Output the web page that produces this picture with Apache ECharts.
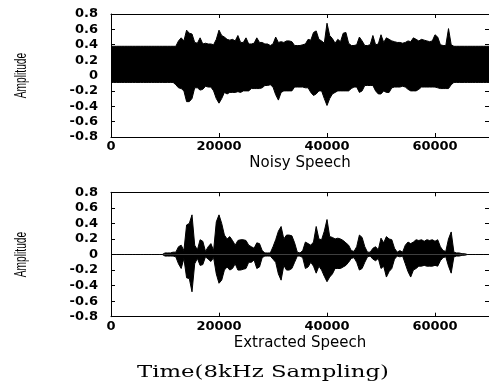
<!DOCTYPE html>
<html>
<head>
<meta charset="utf-8">
<script src="https://cdn.jsdelivr.net/npm/echarts@6/dist/echarts.min.js"></script>
<style>
  html, body { margin: 0; padding: 0; background: #fff; }
  #chart { width: 489px; height: 392px; }
</style>
</head>
<body>
<div id="chart"></div>
<script>
// envelope of each waveform, one value every STEP samples (0 .. 70000)
const STEP = 500;

const noisyHi = [
  0.38, 0.38, 0.38, 0.38, 0.38, 0.38, 0.38, 0.38, 0.38, 0.38,
  0.38, 0.38, 0.38, 0.38, 0.38, 0.38, 0.38, 0.38, 0.38, 0.38,
  0.38, 0.38, 0.38, 0.38, 0.38, 0.45, 0.49, 0.45, 0.59, 0.55,
  0.54, 0.43, 0.42, 0.49, 0.41, 0.42, 0.41, 0.41, 0.40, 0.47,
  0.59, 0.52, 0.50, 0.47, 0.46, 0.47, 0.45, 0.52, 0.43, 0.43,
  0.49, 0.41, 0.41, 0.42, 0.49, 0.43, 0.43, 0.41, 0.41, 0.39,
  0.41, 0.50, 0.43, 0.44, 0.43, 0.45, 0.45, 0.44, 0.39, 0.39,
  0.39, 0.40, 0.41, 0.47, 0.46, 0.56, 0.58, 0.47, 0.45, 0.42,
  0.68, 0.52, 0.48, 0.42, 0.47, 0.44, 0.55, 0.56, 0.42, 0.39,
  0.39, 0.40, 0.50, 0.45, 0.39, 0.39, 0.40, 0.52, 0.40, 0.41,
  0.53, 0.43, 0.49, 0.47, 0.45, 0.44, 0.43, 0.43, 0.42, 0.43,
  0.45, 0.44, 0.49, 0.47, 0.45, 0.47, 0.46, 0.45, 0.44, 0.45,
  0.53, 0.50, 0.40, 0.39, 0.39, 0.61, 0.40, 0.38, 0.38, 0.38,
  0.38, 0.38, 0.38, 0.38, 0.38, 0.38, 0.38, 0.38, 0.38, 0.38,
  0.38
];
const noisyLo = [
  -0.09, -0.09, -0.09, -0.09, -0.09, -0.09, -0.09, -0.09, -0.09, -0.09,
  -0.09, -0.09, -0.09, -0.09, -0.09, -0.09, -0.09, -0.09, -0.09, -0.09,
  -0.09, -0.09, -0.09, -0.09, -0.12, -0.16, -0.17, -0.20, -0.34, -0.34,
  -0.30, -0.16, -0.16, -0.19, -0.18, -0.14, -0.15, -0.15, -0.20, -0.30,
  -0.36, -0.30, -0.22, -0.24, -0.22, -0.22, -0.22, -0.21, -0.22, -0.20,
  -0.20, -0.20, -0.17, -0.17, -0.17, -0.17, -0.16, -0.13, -0.13, -0.12,
  -0.15, -0.25, -0.32, -0.22, -0.20, -0.20, -0.20, -0.20, -0.15, -0.15,
  -0.15, -0.15, -0.16, -0.16, -0.22, -0.26, -0.24, -0.20, -0.20, -0.30,
  -0.39, -0.30, -0.24, -0.22, -0.20, -0.20, -0.20, -0.20, -0.20, -0.17,
  -0.15, -0.15, -0.22, -0.20, -0.13, -0.13, -0.13, -0.13, -0.20, -0.24,
  -0.24, -0.20, -0.22, -0.22, -0.16, -0.15, -0.15, -0.15, -0.14, -0.15,
  -0.18, -0.20, -0.20, -0.20, -0.18, -0.15, -0.15, -0.15, -0.15, -0.15,
  -0.15, -0.16, -0.17, -0.17, -0.17, -0.17, -0.12, -0.09, -0.09, -0.09,
  -0.09, -0.09, -0.09, -0.09, -0.09, -0.09, -0.09, -0.09, -0.09, -0.09,
  -0.09
];
const cleanHi = [
  0, 0, 0, 0, 0, 0, 0, 0, 0, 0,
  0, 0, 0, 0, 0, 0, 0, 0, 0, 0,
  0.02, 0.02, 0.02, 0.03, 0.03, 0.10, 0.12, 0.05, 0.38, 0.40,
  0.51, 0.12, 0.06, 0.19, 0.17, 0.04, 0.10, 0.14, 0.05, 0.42,
  0.51, 0.40, 0.25, 0.20, 0.23, 0.18, 0.12, 0.18, 0.19, 0.19,
  0.18, 0.12, 0.10, 0.08, 0.15, 0.14, 0.05, 0.02, 0.02, 0.02,
  0.10, 0.19, 0.30, 0.36, 0.20, 0.25, 0.25, 0.24, 0.15, 0.03,
  0.02, 0.05, 0.16, 0.14, 0.12, 0.16, 0.36, 0.20, 0.19, 0.30,
  0.45, 0.23, 0.22, 0.20, 0.21, 0.20, 0.18, 0.15, 0.12, 0.05,
  0.04, 0.10, 0.25, 0.22, 0.10, 0.03, 0.03, 0.08, 0.10, 0.06,
  0.21, 0.15, 0.23, 0.20, 0.19, 0.08, 0.03, 0.05, 0.03, 0.12,
  0.16, 0.14, 0.16, 0.19, 0.18, 0.19, 0.17, 0.19, 0.18, 0.19,
  0.17, 0.19, 0.10, 0.05, 0.04, 0.20, 0.29, 0.03, 0.02, 0.02,
  0.01, 0.01, 0, 0, 0, 0, 0, 0, 0, 0,
  0
];
const cleanLo = [
  0, 0, 0, 0, 0, 0, 0, 0, 0, 0,
  0, 0, 0, 0, 0, 0, 0, 0, 0, 0,
  -0.02, -0.02, -0.02, -0.02, -0.03, -0.12, -0.18, -0.05, -0.30, -0.31,
  -0.48, -0.12, -0.05, -0.14, -0.13, -0.03, -0.06, -0.09, -0.04, -0.25,
  -0.37, -0.33, -0.20, -0.16, -0.20, -0.18, -0.12, -0.20, -0.20, -0.19,
  -0.18, -0.10, -0.10, -0.07, -0.18, -0.16, -0.04, -0.02, -0.02, -0.02,
  -0.06, -0.10, -0.25, -0.33, -0.14, -0.20, -0.20, -0.18, -0.10, -0.02,
  -0.02, -0.04, -0.18, -0.16, -0.10, -0.15, -0.24, -0.15, -0.20, -0.28,
  -0.35, -0.29, -0.25, -0.18, -0.18, -0.18, -0.16, -0.14, -0.10, -0.05,
  -0.04, -0.10, -0.20, -0.18, -0.10, -0.03, -0.02, -0.06, -0.08, -0.05,
  -0.18, -0.15, -0.29, -0.22, -0.18, -0.06, -0.02, -0.03, -0.02, -0.12,
  -0.22, -0.29, -0.20, -0.18, -0.15, -0.15, -0.14, -0.15, -0.15, -0.15,
  -0.14, -0.15, -0.08, -0.04, -0.03, -0.15, -0.24, -0.03, -0.02, -0.02,
  -0.01, -0.01, 0, 0, 0, 0, 0, 0, 0, 0,
  0
];

const xTicks = [0, 20000, 40000, 60000];
const yTicks = [-0.8, -0.6, -0.4, -0.2, 0, 0.2, 0.4, 0.6, 0.8];
const panelNames = ['Noisy Speech', 'Extracted Speech'];

const chart = echarts.init(document.getElementById('chart'));

const sans = 'DejaVu Sans';
const black = '#000';
const tickStyle = { inside: true, length: 4, lineStyle: { color: black, width: 1 } };
const lineStyle = { show: true, onZero: false, lineStyle: { color: black, width: 1 } };

const grids = [
  { left: 111, top: 14, width: 381.5, height: 123 },
  { left: 111, top: 192.3, width: 381.5, height: 124.4 },
];

const xAxis = [];
const yAxis = [];
const graphic = [];
grids.forEach((g, gi) => {
  const xBase = {
    gridIndex: gi, type: 'value', min: xTicks[0], max: 70000,
    interval: xTicks[1] - xTicks[0],
    axisLine: lineStyle, axisTick: tickStyle, splitLine: { show: false },
  };
  xAxis.push(Object.assign({}, xBase, {
    position: 'bottom',
    name: panelNames[gi], nameLocation: 'middle', nameGap: 19,
    nameTextStyle: { fontFamily: sans, fontSize: 15, color: black },
    axisLabel: {
      margin: 3, fontFamily: sans, fontSize: 13, fontWeight: 'bold', color: black,
      showMaxLabel: false,
      formatter: (v) => (xTicks.includes(v) ? String(v) : ''),
    },
  }));
  xAxis.push(Object.assign({}, xBase, { position: 'top', axisLabel: { show: false } }));

  const yBase = {
    gridIndex: gi, type: 'value', min: yTicks[0], max: yTicks[yTicks.length - 1],
    interval: 0.2,
    axisLine: lineStyle, axisTick: tickStyle, splitLine: { show: false },
  };
  yAxis.push(Object.assign({}, yBase, {
    position: 'left',
    axisLabel: {
      margin: 13, fontFamily: sans, fontSize: 13, fontWeight: 'bold', color: black,
      formatter: (v) => (Math.abs(v) < 1e-9 ? '0' : v.toFixed(1)),
    },
  }));
  yAxis.push(Object.assign({}, yBase, { position: 'right', axisLabel: { show: false } }));

  // condensed, rotated "Amplitude" label beside each panel
  graphic.push({
    type: 'text',
    x: 21,
    y: g.top + g.height / 2,
    rotation: Math.PI / 2,
    scaleX: 0.6,
    style: {
      text: 'Amplitude',
      font: '17px "Liberation Sans"',
      fill: black,
      textAlign: 'center',
      textVerticalAlign: 'middle',
    },
  });
});

graphic.push({
  type: 'text',
  x: 263,
  y: 373,
  scaleX: 1.34,
  style: {
    text: 'Time(8kHz Sampling)',
    font: '17px "DejaVu Serif"',
    fill: black,
    textAlign: 'center',
    textVerticalAlign: 'middle',
  },
});

function envelope(values, axisIdx, withZero) {
  const s = {
    type: 'line',
    xAxisIndex: axisIdx,
    yAxisIndex: axisIdx,
    data: values.map((v, i) => [i * STEP, v]),
    symbol: 'none',
    silent: true,
    lineStyle: { color: black, width: 1 },
    areaStyle: { color: black, opacity: 1 },
  };
  if (withZero) {
    // covers the seam where the two filled halves meet at 0
    s.markLine = {
      silent: true, symbol: 'none', label: { show: false },
      lineStyle: { color: black, width: 1, type: 'solid' },
      data: [{ yAxis: 0 }],
    };
  }
  return s;
}

chart.setOption({
  animation: false,
  grid: grids,
  xAxis: xAxis,
  yAxis: yAxis,
  series: [
    envelope(noisyHi, 0, false),
    envelope(noisyLo, 0, true),
    envelope(cleanHi, 2, false),
    envelope(cleanLo, 2, false),
  ],
  graphic: graphic,
});
</script>
</body>
</html>
